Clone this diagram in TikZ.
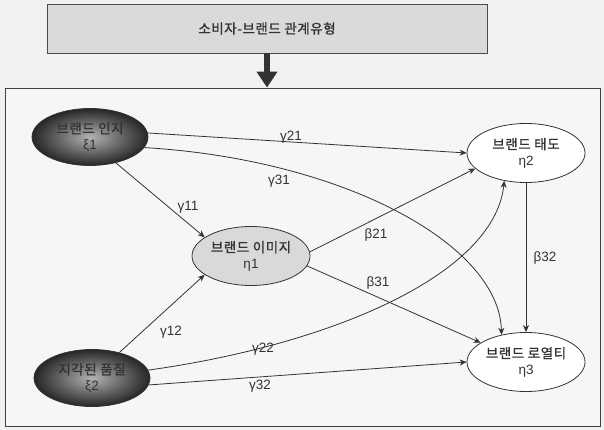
\documentclass[tikz,border=0pt]{standalone}
\usepackage{fontspec}
\setmainfont{Liberation Sans}
\newfontfamily\kr[FakeBold=1.2,LetterSpace=4]{Noto Sans CJK KR}
\usetikzlibrary{shapes.geometric,arrows.meta}
\definecolor{ink}{HTML}{333333}
\definecolor{bgc}{HTML}{F1F1F1}
\definecolor{boxc}{HTML}{DADADA}
\definecolor{framec}{HTML}{F6F6F6}
\definecolor{lightel}{HTML}{D9D9D9}
\begin{document}
\begin{tikzpicture}[x=1pt,y=-1pt,
  every node/.style={font=\fontsize{13.5}{16}\selectfont, text=ink},
  lat/.style={ellipse, draw=ink, line width=0.8pt, minimum width=118pt, minimum height=59pt, inner sep=0pt, align=center, fill=white},
  latgray/.style={lat, fill=lightel},
  exo/.style={ellipse, draw=black!80, line width=0.8pt, minimum width=116pt, minimum height=57pt, inner sep=0pt, align=center,
     inner color=black!30, outer color=black!85, text=black!80},
  path/.style={draw=ink, line width=0.8pt, -{Stealth[length=7pt,width=6pt]}},
  lbl/.style={inner sep=1pt, text=ink}
]
\useasboundingbox[fill=bgc] (0,0) rectangle (604,430);
% title box and frame
\node[draw=black!70, fill=boxc, line width=0.8pt, minimum width=440pt, minimum height=49pt, inner sep=0pt] (title) at (267,28.5) {\kr 소비자-브랜드 관계유형};
\node[draw=black!75, fill=framec, line width=0.9pt, minimum width=595pt, minimum height=338pt, inner sep=0pt] (frame) at (302.5,257) {};
\draw[draw=ink, line width=6pt, -{Triangle[length=16pt,width=20pt]}] (title.south) -- (title.south |- frame.north);
% nodes
\node[exo] (xi1) at (90,137) {{\kr 브랜드 인지}\\ξ1};
\node[exo] (xi2) at (92,378) {{\kr 지각된 품질}\\ξ2};
\node[latgray] (eta1) at (251,256) {{\kr 브랜드 이미지}\\η1};
\node[lat] (eta2) at (526,153) {{\kr 브랜드 태도}\\η2};
\node[lat] (eta3) at (526,362) {{\kr 브랜드 로열티}\\η3};
% connectors
\draw[path] (xi1.4) -- (eta2.180);
\draw[path] (xi1.-11) .. controls +(200,12) and +(-2,-90) .. (eta3.132);
\draw[path] (xi1.-45) -- (eta1.158);
\draw[path] (xi2.43) -- (eta1.202);
\draw[path] (xi2.8) .. controls +(180,-25) and +(-10,95) .. (eta2.232);
\draw[path] (xi2.-7) -- (eta3.180);
\draw[path] (eta1.4) -- (eta2.197);
\draw[path] (eta1.-10) -- (eta3.157);
\draw[path] (eta2.270) -- (eta3.90);
% labels
\node[lbl] (l21) at (291,137) {γ21};
\node[lbl] (l31) at (279,181) {γ31};
\node[lbl] (l11) at (188,207) {γ11};
\node[lbl] (l12) at (171,332) {γ12};
\node[lbl] (l22) at (263,349) {γ22};
\node[lbl] (l32) at (260,386) {γ32};
\node[lbl] (b21) at (376,235) {β21};
\node[lbl] (b32) at (545,258) {β32};
\node[lbl] (b31) at (378,283) {β31};
\end{tikzpicture}
\end{document}
